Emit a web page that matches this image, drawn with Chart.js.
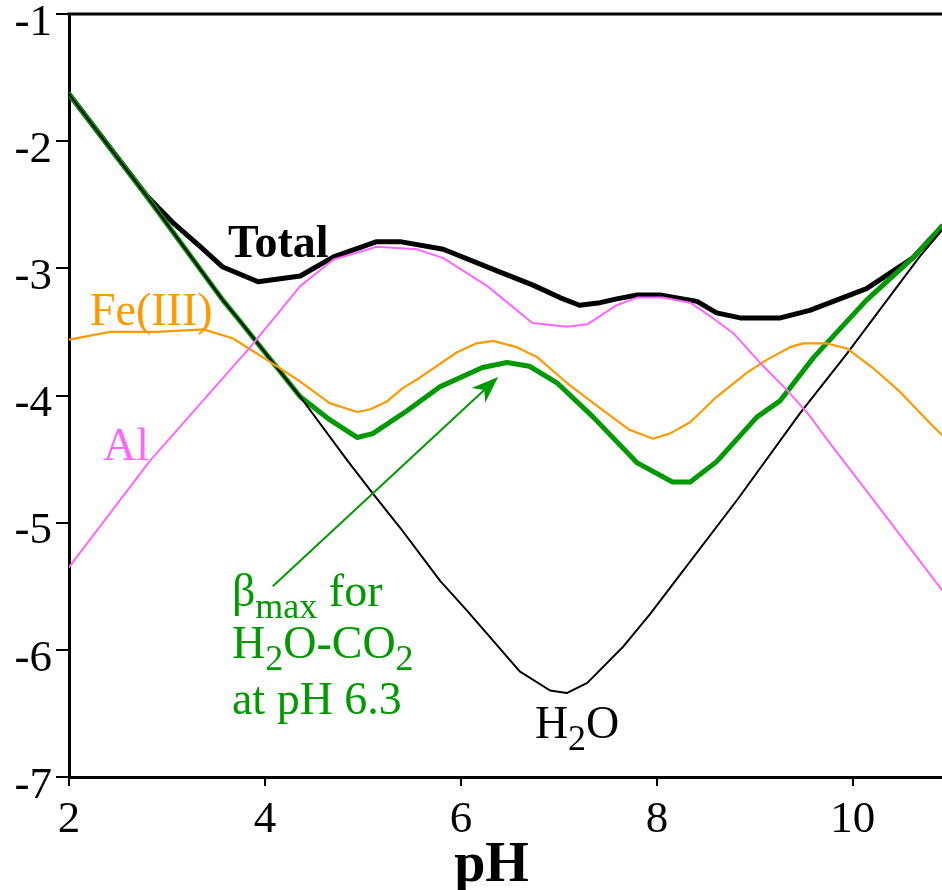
<!DOCTYPE html>
<html>
<head>
<meta charset="utf-8">
<script src="https://cdn.jsdelivr.net/npm/chart.js@4/dist/chart.umd.min.js"></script>
<style>
  html, body { margin: 0; padding: 0; background: #fff; overflow: hidden; }
  #wrap { width: 942px; height: 890px; position: relative; }
</style>
</head>
<body>
<div id="wrap"><canvas id="c"></canvas></div>
<script>
// ---- data ----
const totalPH  = [2.0, 2.8, 3.06, 3.34, 3.57, 3.93, 4.36, 4.70, 5.14, 5.38, 5.82, 6.40, 6.73, 7.01, 7.21, 7.42, 7.59, 7.80, 8.03, 8.41, 8.61, 8.85, 9.26, 9.56, 10.14, 10.61, 10.91];
const totalVal = [-1.63, -2.435, -2.64, -2.83, -2.99, -3.105, -3.06, -2.91, -2.79, -2.79, -2.85, -3.03, -3.13, -3.23, -3.29, -3.27, -3.24, -3.21, -3.21, -3.26, -3.35, -3.39, -3.39, -3.33, -3.16, -2.92, -2.67];

const betaPH  = [2.0, 2.8, 3.57, 3.74, 4.36, 4.66, 4.94, 5.10, 5.45, 5.79, 6.22, 6.47, 6.70, 6.98, 7.35, 7.80, 8.16, 8.34, 8.61, 9.02, 9.26, 9.60, 10.14, 10.61, 10.91];
const betaVal = [-1.63, -2.44, -3.25, -3.41, -4.01, -4.19, -4.33, -4.30, -4.12, -3.93, -3.78, -3.74, -3.77, -3.90, -4.17, -4.53, -4.68, -4.68, -4.52, -4.17, -4.04, -3.70, -3.25, -2.92, -2.67];

const waterPH  = [2.0, 2.8, 3.57, 3.74, 4.36, 4.84, 5.10, 5.38, 5.79, 6.06, 6.60, 6.91, 7.08, 7.29, 7.65, 7.93, 8.83, 9.46, 9.94, 10.68, 10.91];
const waterVal = [-1.63, -2.44, -3.25, -3.41, -4.01, -4.51, -4.77, -5.04, -5.46, -5.69, -6.17, -6.32, -6.34, -6.26, -5.98, -5.72, -4.81, -4.14, -3.67, -2.91, -2.70];

const alPH  = [2.0, 2.83, 3.85, 4.36, 4.70, 5.14, 5.55, 5.82, 6.27, 6.73, 7.08, 7.29, 7.59, 7.80, 8.06, 8.34, 8.57, 8.78, 9.05, 9.33, 9.54, 9.80, 10.21, 10.91];
const alVal = [-5.35, -4.51, -3.62, -3.14, -2.93, -2.83, -2.85, -2.92, -3.14, -3.43, -3.46, -3.44, -3.29, -3.23, -3.23, -3.27, -3.39, -3.51, -3.74, -3.96, -4.14, -4.41, -4.82, -5.53];

const fePH  = [2.0, 2.42, 2.90, 3.37, 3.67, 4.02, 4.36, 4.66, 4.94, 5.07, 5.24, 5.41, 5.58, 5.96, 6.16, 6.33, 6.57, 6.78, 7.08, 7.42, 7.72, 7.96, 8.13, 8.34, 8.61, 8.92, 9.12, 9.36, 9.49, 9.73, 9.94, 10.2, 10.48, 10.79, 10.91];
const feVal = [-3.56, -3.50, -3.50, -3.48, -3.55, -3.72, -3.89, -4.06, -4.13, -4.11, -4.05, -3.94, -3.86, -3.66, -3.59, -3.57, -3.62, -3.70, -3.90, -4.10, -4.27, -4.34, -4.30, -4.21, -4.01, -3.82, -3.72, -3.62, -3.59, -3.59, -3.63, -3.78, -3.97, -4.22, -4.31];

const xTicks = [2, 4, 6, 8, 10];
const yTicks = [-7, -6, -5, -4, -3, -2, -1];

// ---- annotations (data coordinates) ----
const annotPH6_3 = 6.3;
const arrowFrom = { x: 4.08, y: -5.50 };
const arrowTo   = { x: 6.38, y: -3.855 };

const SERIF = '"Liberation Serif", "DejaVu Serif", serif';
const GREEN = '#009900', ORANGE = '#ff9900', PINK = '#ff66ff';

function pts(xs, ys) { return xs.map((x, i) => ({ x: x, y: ys[i] })); }

const labels = [
  { x: 3.622, y: -2.908, color: '#000', bold: true, parts: [{ t: 'Total' }] },
  { x: 2.214, y: -3.445, color: ORANGE, parts: [{ t: 'Fe(III)' }] },
  { x: 2.347, y: -4.51, color: PINK, parts: [{ t: 'Al' }] },
  { x: 6.755, y: -6.694, color: '#000', parts: [{ t: 'H' }, { t: '2', sub: true }, { t: 'O' }] },
  { x: 3.663, y: -5.653, color: GREEN, parts: [{ t: 'β' }, { t: 'max', sub: true }, { t: ' for' }] },
  { x: 3.663, y: -6.063, color: GREEN, parts: [{ t: 'H' }, { t: '2', sub: true }, { t: 'O-CO' }, { t: '2', sub: true }] },
  { x: 3.663, y: -6.505, color: GREEN, parts: [{ t: 'at pH ' + annotPH6_3 }] }
];

const annotPlugin = {
  id: 'annot',
  afterDatasetsDraw(chart) {
    const ctx = chart.ctx, xs = chart.scales.x, ys = chart.scales.y;
    const ca = chart.chartArea;
    ctx.save();
    // top frame line
    ctx.strokeStyle = '#000';
    ctx.lineWidth = 3;
    ctx.beginPath();
    ctx.moveTo(ca.left - 1.5, ca.top);
    ctx.lineTo(ca.right, ca.top);
    ctx.stroke();

    // text labels
    const size = 46, subSize = 36;
    labels.forEach(l => {
      let px = xs.getPixelForValue(l.x);
      const py = ys.getPixelForValue(l.y);
      ctx.fillStyle = l.color;
      ctx.textBaseline = 'alphabetic';
      ctx.textAlign = 'left';
      l.parts.forEach(p => {
        const fs = p.sub ? subSize : size;
        ctx.font = (l.bold ? 'bold ' : '') + fs + 'px ' + SERIF;
        ctx.fillText(p.t, px, py + (p.sub ? 12 : 0));
        px += ctx.measureText(p.t).width;
      });
    });

    // arrow
    const x1 = xs.getPixelForValue(arrowFrom.x), y1 = ys.getPixelForValue(arrowFrom.y);
    const x2 = xs.getPixelForValue(arrowTo.x), y2 = ys.getPixelForValue(arrowTo.y);
    const ang = Math.atan2(y2 - y1, x2 - x1);
    const L = 27, W = 10, notch = 8;
    ctx.strokeStyle = GREEN;
    ctx.fillStyle = GREEN;
    ctx.lineWidth = 2;
    ctx.beginPath();
    ctx.moveTo(x1, y1);
    ctx.lineTo(x2 - Math.cos(ang) * (L - notch), y2 - Math.sin(ang) * (L - notch));
    ctx.stroke();
    ctx.beginPath();
    ctx.moveTo(x2, y2);
    const bx = x2 - Math.cos(ang) * L, by = y2 - Math.sin(ang) * L;
    ctx.lineTo(bx + Math.sin(ang) * W, by - Math.cos(ang) * W);
    ctx.lineTo(x2 - Math.cos(ang) * (L - notch), y2 - Math.sin(ang) * (L - notch));
    ctx.lineTo(bx - Math.sin(ang) * W, by + Math.cos(ang) * W);
    ctx.closePath();
    ctx.fill();
    ctx.restore();
  }
};

new Chart(document.getElementById('c'), {
  type: 'line',
  data: {
    datasets: [
      { label: 'Al', data: pts(alPH, alVal), borderColor: PINK, borderWidth: 2 },
      { label: 'Fe(III)', data: pts(fePH, feVal), borderColor: ORANGE, borderWidth: 2.2 },
      { label: 'H2O', data: pts(waterPH, waterVal), borderColor: '#000', borderWidth: 2 },
      { label: 'βmax H2O-CO2', data: pts(betaPH, betaVal), borderColor: GREEN, borderWidth: 5 },
      { label: 'Total', data: pts(totalPH, totalVal), borderColor: '#000', borderWidth: 5 }
    ]
  },
  options: {
    responsive: true,
    maintainAspectRatio: false,
    animation: false,
    elements: { point: { radius: 0 }, line: { tension: 0, borderJoinStyle: 'round', borderCapStyle: 'round' } },
    layout: { padding: { top: 14, right: 0, left: 0, bottom: 0 } },
    plugins: { legend: { display: false }, tooltip: { enabled: false } },
    scales: {
      x: {
        type: 'linear',
        min: 2, max: 10.91,
        afterBuildTicks: s => { s.ticks = xTicks.map(v => ({ value: v })); },
        afterFit: s => { s.height = 113; s.paddingLeft = 0; s.paddingRight = 0; },
        grid: { drawOnChartArea: false, drawTicks: true, tickLength: 9, color: '#000', lineWidth: 2 },
        border: { color: '#000', width: 3 },
        ticks: { font: { family: SERIF, size: 45 }, color: '#000', padding: 7, maxRotation: 0, autoSkip: false },
        title: { display: true, text: 'pH\u2002', color: '#000', font: { family: SERIF, size: 56, weight: 'bold', lineHeight: 0.83 }, padding: 0 }
      },
      y: {
        type: 'linear',
        min: -7, max: -1,
        afterBuildTicks: s => { s.ticks = yTicks.map(v => ({ value: v })); },
        afterFit: s => { s.width = 69; s.paddingTop = 0; s.paddingBottom = 0; },
        grid: { drawOnChartArea: false, drawTicks: true, tickLength: 13, color: '#000', lineWidth: 2 },
        border: { color: '#000', width: 3 },
        ticks: {
          font: { family: SERIF, size: 45, lineHeight: 0.4 },
          color: '#000', padding: 4, autoSkip: false,
          callback: v => ['', String(v)]
        }
      }
    }
  },
  plugins: [annotPlugin]
});
</script>
</body>
</html>
